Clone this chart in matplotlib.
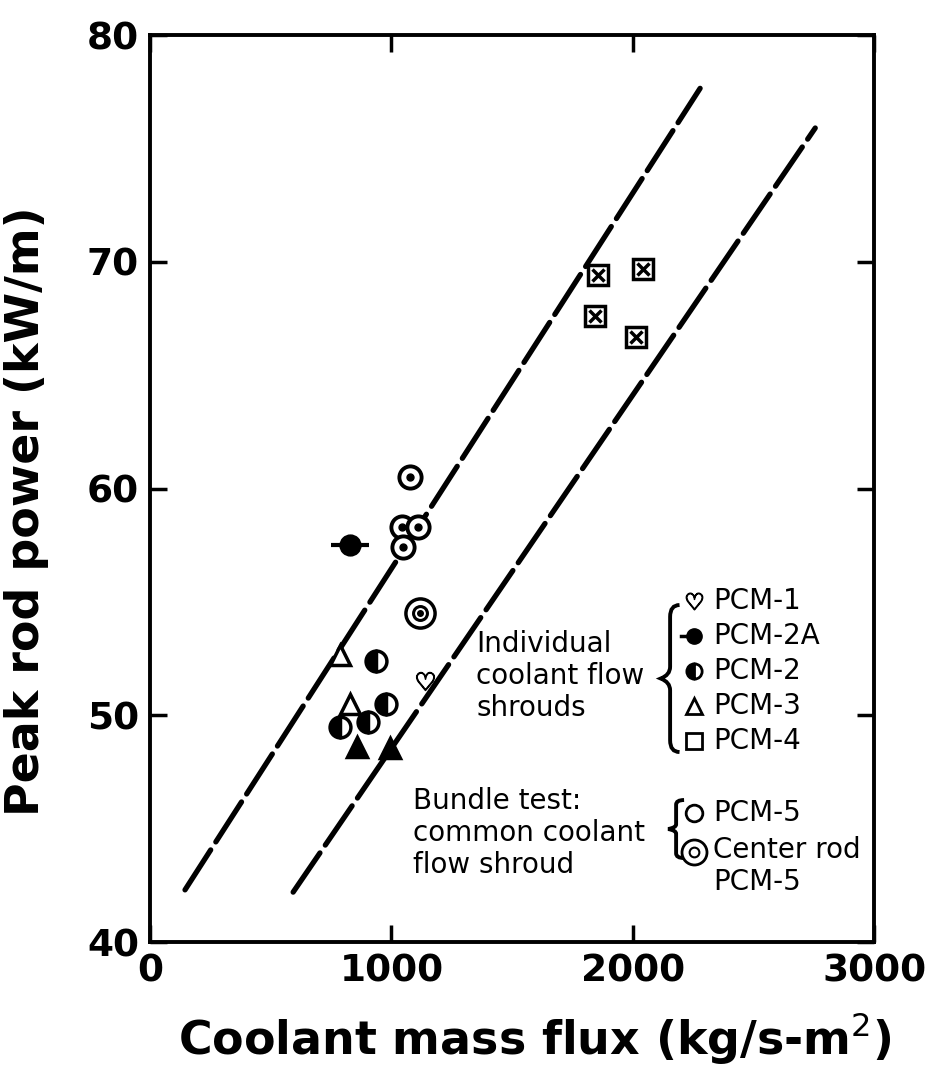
import matplotlib
matplotlib.use("Agg")
import matplotlib.pyplot as plt
from matplotlib.path import Path
from matplotlib.patches import PathPatch

# dashed envelope lines (endpoints)
upper_x = [145, 2279]
upper_y = [42.3, 77.65]
lower_x = [593, 2756]
lower_y = [42.2, 75.9]

# data points per test series
pcm1_x = [1140]
pcm1_y = [51.5]
pcm2a_x = [829]
pcm2a_y = [57.5]
pcm2_x = [937, 978, 787, 903]
pcm2_y = [52.4, 50.5, 49.5, 49.7]
pcm3_open_x = [787, 829]
pcm3_open_y = [52.65, 50.5]
pcm3_fill_x = [858, 995]
pcm3_fill_y = [48.6, 48.55]
pcm4_x = [1857, 2043, 1844, 2014]
pcm4_y = [69.4, 69.7, 67.6, 66.7]
pcm5_x = [1077, 1044, 1111, 1049]
pcm5_y = [60.5, 58.3, 58.3, 57.4]
center_x = [1119]
center_y = [54.5]

xticks = [0, 1000, 2000, 3000]
yticks = [40, 50, 60, 70, 80]

group1_labels = ["PCM-1", "PCM-2A", "PCM-2", "PCM-3", "PCM-4"]
group2_labels = ["PCM-5", "Center rod\nPCM-5"]

fig = plt.figure(figsize=(9.26, 10.75), dpi=100)
ax = fig.add_axes([0.162, 0.1237, 0.782, 0.8437])

ax.plot(upper_x, upper_y, color="black", lw=3.8, ls=(0, (9, 1.8)), dash_capstyle="round")
ax.plot(lower_x, lower_y, color="black", lw=3.8, ls=(0, (9, 1.8)), dash_capstyle="round")

mk = dict(ls="none", color="black", zorder=5)
ax.plot(pcm1_x, pcm1_y, marker="$\\heartsuit$", ms=13, **mk)
ax.plot(pcm2a_x, pcm2a_y, marker="_", ms=28, mew=3, **mk)
ax.plot(pcm2a_x, pcm2a_y, marker="o", ms=14, mfc="black", mec="black", mew=2, **mk)
ax.plot(pcm2_x, pcm2_y, marker="o", ms=15, fillstyle="left", mfc="black", mfcalt="white", mew=2.5, **mk)
ax.plot(pcm3_open_x, pcm3_open_y, marker="^", ms=15, mfc="white", mew=2.5, **mk)
ax.plot(pcm3_fill_x, pcm3_fill_y, marker="^", ms=15, mfc="black", mew=2.5, **mk)
ax.plot(pcm4_x, pcm4_y, marker="s", ms=14, mfc="white", mew=2.5, **mk)
ax.plot(pcm4_x, pcm4_y, marker="x", ms=9, mew=2.5, **mk)
ax.plot(pcm5_x, pcm5_y, marker="o", ms=16, mfc="white", mew=2.8, **mk)
ax.plot(pcm5_x, pcm5_y, marker="o", ms=5, **mk)
ax.plot(center_x, center_y, marker="o", ms=21, mfc="white", mew=2.5, **mk)
ax.plot(center_x, center_y, marker="o", ms=10, mfc="white", mew=2.2, **mk)
ax.plot(center_x, center_y, marker="o", ms=4, **mk)

ax.set_xlim(0, 3000)
ax.set_ylim(40, 80)
ax.set_xticks(xticks)
ax.set_yticks(yticks)
ax.tick_params(direction="in", length=12, width=2.5, top=True, right=True,
               labelsize=27, pad=8)
for lab in ax.get_xticklabels() + ax.get_yticklabels():
    lab.set_fontweight("bold")
for s in ax.spines.values():
    s.set_linewidth(2.8)

ax.set_xlabel("Coolant mass flux (kg/s-m$^2$)", fontsize=33, fontweight="bold")
ax.xaxis.set_label_coords(0.532, -0.075)
ax.set_ylabel("Peak rod power (kW/m)", fontsize=33, fontweight="bold")
ax.yaxis.set_label_coords(-0.14, 0.475)


def brace(x, y0, y1, w):
    # left curly brace in axes fraction coords
    ym = (y0 + y1) / 2
    h = y1 - y0
    c = 0.08 * h
    verts = [(x + w, y1), (x, y1), (x, y1 - c), (x, y1 - 2 * c),
             (x, ym + c), (x, ym + 0.3 * c), (x - w, ym),
             (x, ym - 0.3 * c), (x, ym - c), (x, ym - 2 * c),
             (x, y0 + c), (x, y0), (x + w, y0)]
    codes = [Path.MOVETO, Path.CURVE3, Path.CURVE3, Path.LINETO,
             Path.LINETO, Path.CURVE3, Path.CURVE3,
             Path.CURVE3, Path.CURVE3, Path.LINETO,
             Path.LINETO, Path.CURVE3, Path.CURVE3]
    ax.add_patch(PathPatch(Path(verts, codes), fc="none", ec="black", lw=2.8,
                           transform=ax.transAxes, clip_on=False))


def fx(px):
    return (px - 150) / 724


def fy(py):
    return (942 - py) / 907


lt = dict(transform=ax.transAxes, fontsize=20, va="center", ha="left", linespacing=1.2)
ax.text(fx(476), fy(676), "Individual\ncoolant flow\nshrouds", **lt)
ax.text(fx(413), fy(833), "Bundle test:\ncommon coolant\nflow shroud", **lt)
brace(fx(670), fy(752), fy(605), 0.013)
brace(fx(676), fy(858), fy(800), 0.011)

leg_styles = [
    dict(marker="$\\heartsuit$", ms=12, mfc="black"),
    dict(marker="o", ms=11, mfc="black"),
    dict(marker="o", ms=11, fillstyle="left", mfc="black", mfcalt="white", mew=2),
    dict(marker="^", ms=11, mfc="white", mew=2),
    dict(marker="s", ms=11, mfc="white", mew=2),
]
rows1 = [601, 636, 671, 706, 741]
for lab, st, r in zip(group1_labels, leg_styles, rows1):
    ax.plot([fx(694)], [fy(r)], color="black", transform=ax.transAxes, clip_on=False, **st)
    ax.text(fx(713), fy(r), lab, **lt)
ax.plot([fx(681), fx(694)], [fy(636), fy(636)], color="black", lw=2.5,
        transform=ax.transAxes, clip_on=False)

ax.plot([fx(694)], [fy(813)], marker="o", ms=12, mfc="white", mew=2, color="black",
        transform=ax.transAxes, clip_on=False)
ax.text(fx(713), fy(813), group2_labels[0], **lt)
ax.plot([fx(694)], [fy(852)], marker="o", ms=18, mfc="white", mew=2, color="black",
        transform=ax.transAxes, clip_on=False)
ax.plot([fx(694)], [fy(852)], marker="o", ms=7, mfc="white", mew=1.5, color="black",
        transform=ax.transAxes, clip_on=False)
ax.text(fx(713), fy(852) + 0.018, group2_labels[1], va="top", ha="left", fontsize=20,
        linespacing=1.2, transform=ax.transAxes)

fig.savefig("out.png", dpi=100)
